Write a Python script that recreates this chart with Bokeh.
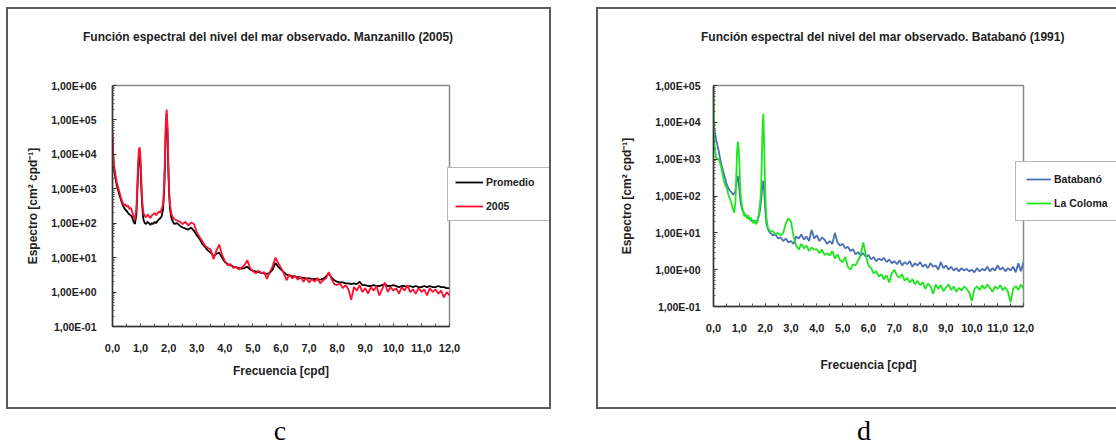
from bokeh.plotting import figure
from bokeh.models import FixedTicker, Legend, LegendItem, Div
from bokeh.layouts import row, column
from bokeh.embed import file_html
from bokeh.resources import INLINE

# ---------------- data ----------------
freq_low = [0.0, 0.03, 0.06, 0.1, 0.15, 0.2, 0.25, 0.3, 0.35, 0.4, 0.45, 0.5, 0.55, 0.6,
            0.65, 0.7, 0.75, 0.8, 0.85, 0.88, 0.91, 0.94, 0.97, 1.0, 1.03, 1.06, 1.1, 1.15,
            1.2, 1.25, 1.3, 1.35, 1.4, 1.45, 1.5, 1.55, 1.6, 1.65, 1.7, 1.75, 1.8, 1.84,
            1.87, 1.9, 1.93, 1.96, 1.99, 2.02, 2.05, 2.1, 2.15, 2.2]
freq_high = [round(2.3 + 0.1 * i, 1) for i in range(98)]
freq = freq_low + freq_high

# Panel c  (Manzanillo 2005)
promedio = [3.0e4, 6.0e3, 3.5e3, 2.2e3, 1.3e3, 900, 650, 480, 360, 290, 250, 230, 200, 180,
            170, 150, 110, 95, 180, 700, 3000, 9000, 11000, 4000, 900, 300, 130, 100,
            95, 110, 100, 90, 100, 95, 110, 100, 115, 130, 140, 160, 250, 900,
            6000, 60000, 150000, 40000, 3000, 600, 250, 140, 110, 95,
            100, 85, 75, 70, 65, 75, 60, 45, 35, 25,
            20, 16, 14, 11, 13, 14, 10, 7.5, 6.5, 6.0,
            5.5, 5.2, 5.0, 4.8, 5.0, 5.5, 4.5, 4.2, 4.0, 3.8,
            3.6, 3.5, 3.4, 3.6, 4.5, 7.0, 5.5, 4.5, 3.8, 3.2,
            3.0, 2.9, 2.8, 2.7, 2.6, 2.6, 2.5, 2.5, 2.4, 2.4,
            2.3, 2.3, 2.4, 2.8, 3.5, 2.6, 2.2, 2.0, 1.9, 1.9,
            1.8, 1.8, 1.7, 1.8, 1.7, 2.0, 1.6, 1.6, 1.5, 1.5,
            1.6, 1.5, 1.5, 1.6, 1.7, 1.5, 1.5, 1.6, 1.5, 1.4,
            1.5, 1.5, 1.4, 1.5, 1.4, 1.5, 1.4, 1.4, 1.5, 1.4,
            1.5, 1.4, 1.4, 1.5, 1.4, 1.4, 1.3, 1.3]
y2005 = [5.0e4, 9.0e3, 4.5e3, 2.8e3, 1.6e3, 1100, 800, 560, 420, 330, 360, 300, 330, 260,
         280, 220, 160, 130, 260, 1000, 5000, 14000, 16000, 7000, 1500, 450, 200, 160,
         150, 180, 160, 140, 170, 180, 200, 170, 190, 220, 200, 260, 350, 1200,
         9000, 100000, 200000, 60000, 5000, 800, 330, 180, 150, 130,
         120, 110, 95, 110, 85, 105, 95, 55, 40, 30,
         22, 19, 17, 9, 16, 24, 12, 8, 6, 6.5,
         5, 5.5, 4.5, 5.2, 6, 8.5, 5, 4, 3.5, 4.2,
         3.5, 3.8, 2.4, 3.8, 5.5, 10, 7, 5, 3.5, 2.2,
         3.3, 2.5, 3.0, 2.3, 2.8, 2.0, 2.6, 1.9, 2.4, 2.0,
         2.6, 1.8, 2.2, 2.5, 3.8, 2.4, 1.7, 1.6, 1.8, 1.3,
         1.6, 1.2, 0.6, 1.4, 1.1, 1.6, 1.0, 1.3, 0.9, 1.4,
         1.1, 1.5, 0.8, 1.2, 1.9, 1.0, 1.4, 1.1, 1.3, 0.9,
         1.4, 1.1, 1.6, 1.0, 1.2, 0.9, 1.3, 1.0, 1.2, 0.8,
         1.3, 1.0, 1.2, 0.9, 1.1, 0.7, 1.0, 0.8]

# Panel d  (Batabano 1991)
batabano = [1.1e4, 7.0e3, 5.0e3, 3.5e3, 2.4e3, 1.7e3, 1.1e3, 750, 550, 400, 300, 220, 180, 150,
            135, 125, 110, 115, 140, 200, 300, 350, 250, 150, 90, 60, 45, 38,
            32, 30, 28, 25, 24, 22, 20, 22, 20, 19, 22, 28, 40, 70,
            120, 220, 260, 150, 60, 30, 18, 13, 11, 10,
            8.5, 9, 7, 7.5, 6, 7, 5.5, 6, 5, 8,
            7, 9, 6.5, 8, 6, 12, 7, 8.5, 6, 7.5,
            6.5, 5, 6, 5, 10, 5.5, 4.5, 5, 3.8, 4.2,
            3.2, 3.6, 2.6, 3, 2.4, 2.8, 2.2, 2.5, 1.9, 2.2,
            1.7, 2.0, 1.8, 2.1, 1.6, 1.9, 1.5, 1.7, 1.4, 1.8,
            1.3, 1.6, 1.4, 1.7, 1.2, 1.5, 1.3, 1.6, 1.2, 1.4,
            1.1, 1.5, 1.2, 1.3, 1.0, 1.6, 1.1, 1.3, 1.0, 1.2,
            0.95, 1.1, 0.9, 1.1, 0.95, 1.05, 0.9, 1.0, 0.85, 1.1,
            0.9, 1.05, 0.95, 1.2, 0.9, 1.1, 0.95, 1.3, 1.0, 1.15,
            0.9, 1.1, 0.95, 1.2, 0.85, 1.5, 0.9, 1.6]
la_coloma = [7.0e4, 3.0e3, 1.8e3, 1.1e3, 1.0e3, 1.0e3, 800, 600, 400, 260, 200, 170, 130, 95,
             80, 60, 45, 35, 70, 300, 1500, 3000, 2200, 800, 200, 90, 55, 35,
             28, 32, 24, 30, 22, 26, 21, 18, 22, 17, 20, 30, 60, 130,
             1000, 8000, 17000, 2500, 300, 60, 25, 14, 12, 11,
             11, 9, 10, 8.5, 10, 18, 25, 20, 8, 4.5,
             3.5, 5, 3.8, 4.5, 3.2, 4, 3.5, 3.6, 2.8, 3.5,
             2.5, 2.8, 2.4, 3.2, 2.0, 2.6, 1.8, 1.6, 2.2, 1.2,
             1.0, 1.4, 1.3, 1.8, 2.5, 5.5, 2.4, 1.3, 1.1, 0.8,
             0.9, 0.65, 0.75, 0.55, 0.7, 0.45, 0.8, 1.0, 0.7, 0.6,
             0.75, 0.5, 0.6, 0.45, 0.55, 0.4, 0.5, 0.38, 0.45, 0.3,
             0.42, 0.35, 0.22, 0.4, 0.3, 0.38, 0.26, 0.33, 0.4, 0.28,
             0.35, 0.25, 0.32, 0.27, 0.35, 0.3, 0.24, 0.14, 0.3, 0.35,
             0.28, 0.38, 0.3, 0.4, 0.32, 0.25, 0.35, 0.3, 0.38, 0.28,
             0.33, 0.25, 0.13, 0.3, 0.36, 0.28, 0.4, 0.3]

x_ticks = list(range(13))
x_tick_labels = ["0,0", "1,0", "2,0", "3,0", "4,0", "5,0", "6,0", "7,0", "8,0", "9,0",
                 "10,0", "11,0", "12,0"]
y_ticks_c = [0.1, 1, 10, 100, 1000, 10000, 100000, 1000000]
y_tick_labels_c = ["1,00E-01", "1,00E+00", "1,00E+01", "1,00E+02", "1,00E+03",
                   "1,00E+04", "1,00E+05", "1,00E+06"]
y_ticks_d = [0.1, 1, 10, 100, 1000, 10000, 100000]
y_tick_labels_d = ["1,00E-01", "1,00E+00", "1,00E+01", "1,00E+02", "1,00E+03",
                   "1,00E+04", "1,00E+05"]

title_c = "Función espectral del nivel del mar observado. Manzanillo  (2005)"
title_d = "Función espectral del nivel del mar observado. Batabanó  (1991)"
x_label = "Frecuencia [cpd]"
y_label = "Espectro [cm² cpd⁻¹]"
legend_c = ["Promedio", "2005"]
legend_d = ["Batabanó", "La Coloma"]
colors_c = ["#000000", "#ff1030"]
colors_d = ["#4a6fb8", "#1ee61e"]

assert len(freq) == len(promedio) == len(y2005) == len(batabano) == len(la_coloma)

FONT = "Liberation Sans"
TEXT = "#222222"
LW = 1.8


def make_main(width, ml, mb, ymax, yticks, ylabels, tick_standoff, ylab_standoff,
              xlab_standoff):
    p = figure(width=width, height=363, y_axis_type="log", x_range=(0, 12),
               y_range=(0.1, ymax), output_backend="svg", toolbar_location=None,
               min_border_left=ml, min_border_right=20, min_border_top=41,
               min_border_bottom=mb)
    p.xgrid.visible = False
    p.ygrid.visible = False
    p.background_fill_color = "white"
    p.border_fill_color = "white"
    p.outline_line_color = "#8a8a8a"
    p.outline_line_width = 1.5

    minors_x = [i * 0.5 for i in range(25)]
    p.xaxis.ticker = FixedTicker(ticks=x_ticks, minor_ticks=minors_x)
    p.xaxis.major_label_overrides = dict(zip(x_ticks, x_tick_labels))
    minors_y = [m * t for t in yticks[:-1] for m in range(2, 10)]
    p.yaxis.ticker = FixedTicker(ticks=yticks, minor_ticks=minors_y)
    p.yaxis.major_label_overrides = dict(zip(yticks, ylabels))

    for ax in (p.xaxis[0], p.yaxis[0]):
        ax.axis_line_color = "#333333"
        ax.axis_line_width = 1.5
        ax.major_tick_line_color = "#333333"
        ax.minor_tick_line_color = "#555555"
        ax.major_tick_out = 0
        ax.minor_tick_out = 0
        ax.major_label_text_font = FONT
        ax.major_label_text_font_style = "bold"
        ax.major_label_text_color = TEXT
        ax.axis_label_text_font = FONT
        ax.axis_label_text_font_style = "bold"
        ax.axis_label_text_font_size = "12px"
        ax.axis_label_text_color = TEXT
    p.xaxis.major_tick_in = 3
    p.xaxis.minor_tick_in = 3
    p.yaxis.major_tick_in = 4
    p.yaxis.minor_tick_in = 2
    p.xaxis.major_label_text_font_size = "11px"
    p.yaxis.major_label_text_font_size = "10.5px"
    p.xaxis.major_label_standoff = 17
    p.yaxis.major_label_standoff = tick_standoff
    p.xaxis.axis_label = x_label
    p.yaxis.axis_label = y_label
    p.xaxis.axis_label_standoff = xlab_standoff
    p.yaxis.axis_label_standoff = ylab_standoff
    return p


def make_legend_fig(width, labels, series, colors, gw, pad, lw):
    # a transparent strip holding only the legend; its series lie outside its range
    q = figure(width=width, height=363, x_range=(100, 101), y_range=(100, 101),
               output_backend="svg", toolbar_location=None, x_axis_location=None,
               y_axis_location=None, min_border_left=0, min_border_right=0,
               min_border_top=0, min_border_bottom=0)
    q.xgrid.visible = False
    q.ygrid.visible = False
    q.background_fill_color = None
    q.border_fill_color = None
    q.outline_line_color = None
    items = []
    for lab, ys, col in zip(labels, series, colors):
        r = q.line(freq, ys, line_color=col, line_width=LW)
        items.append(LegendItem(label=lab, renderers=[r]))
    leg = Legend(items=items, location=(0, 186))
    leg.border_line_color = "#707070"
    leg.border_line_width = 1.2
    leg.background_fill_color = "white"
    leg.background_fill_alpha = 1
    leg.label_text_font = FONT
    leg.label_text_font_style = "bold"
    leg.label_text_font_size = "10.5px"
    leg.label_text_color = TEXT
    leg.glyph_width = gw
    leg.glyph_height = 14
    leg.label_height = 14
    leg.label_standoff = 3
    leg.spacing = 10
    leg.padding = pad
    leg.margin = 0
    leg.label_width = lw
    q.add_layout(leg)
    return q


def title_div(text, left, width):
    return Div(text=text, width=width, height=14, margin=(21, 0, 0, left),
               styles={"font-family": FONT, "font-size": "12px", "font-weight": "bold",
                       "color": TEXT, "line-height": "14px", "white-space": "nowrap"})


PANEL_STYLE = {"outline": "2px solid #5a5a5a"}

# ---------- panel c ----------
pc = make_main(461, 104, 81, 1e6, y_ticks_c, y_tick_labels_c, 16, 8, 9)
pc.line(freq, promedio, line_color=colors_c[0], line_width=LW)
pc.line(freq, y2005, line_color=colors_c[1], line_width=LW)
lc = make_legend_fig(102, legend_c, [promedio, y2005], colors_c, 28, 7, 57)
panel_c = column(title_div(title_c, 75, 466),
                 row(column(pc), column(lc, margin=(0, 0, 0, -22))),
                 margin=(9, 0, 0, 8), styles=PANEL_STYLE)

# ---------- panel d ----------
pdd = make_main(445, 115, 101, 1e5, y_ticks_d, y_tick_labels_d, 13, 18, 23)
pdd.line(freq, batabano, line_color=colors_d[0], line_width=LW)
pdd.line(freq, la_coloma, line_color=colors_d[1], line_width=LW)
ld = make_legend_fig(101, legend_d, [batabano, la_coloma], colors_d, 25, 10, 80)
panel_d = column(title_div(title_d, 103, 415),
                 row(column(pdd), column(ld, margin=(0, 0, 0, -28))),
                 margin=(9, 0, 0, 49), styles=PANEL_STYLE)

letter_style = {"font-family": "Liberation Serif", "font-size": "28px",
                "text-align": "center", "line-height": "30px", "color": "#000000"}
div_c = Div(text="c", width=560, height=30, margin=(9, 0, 0, 0), styles=letter_style)
div_d = Div(text="d", width=400, height=30, margin=(9, 0, 0, 104), styles=letter_style)

layout = column(row(panel_c, panel_d), row(div_c, div_d))
open("out.html", "w").write(file_html(layout, INLINE, title="Función espectral"))
